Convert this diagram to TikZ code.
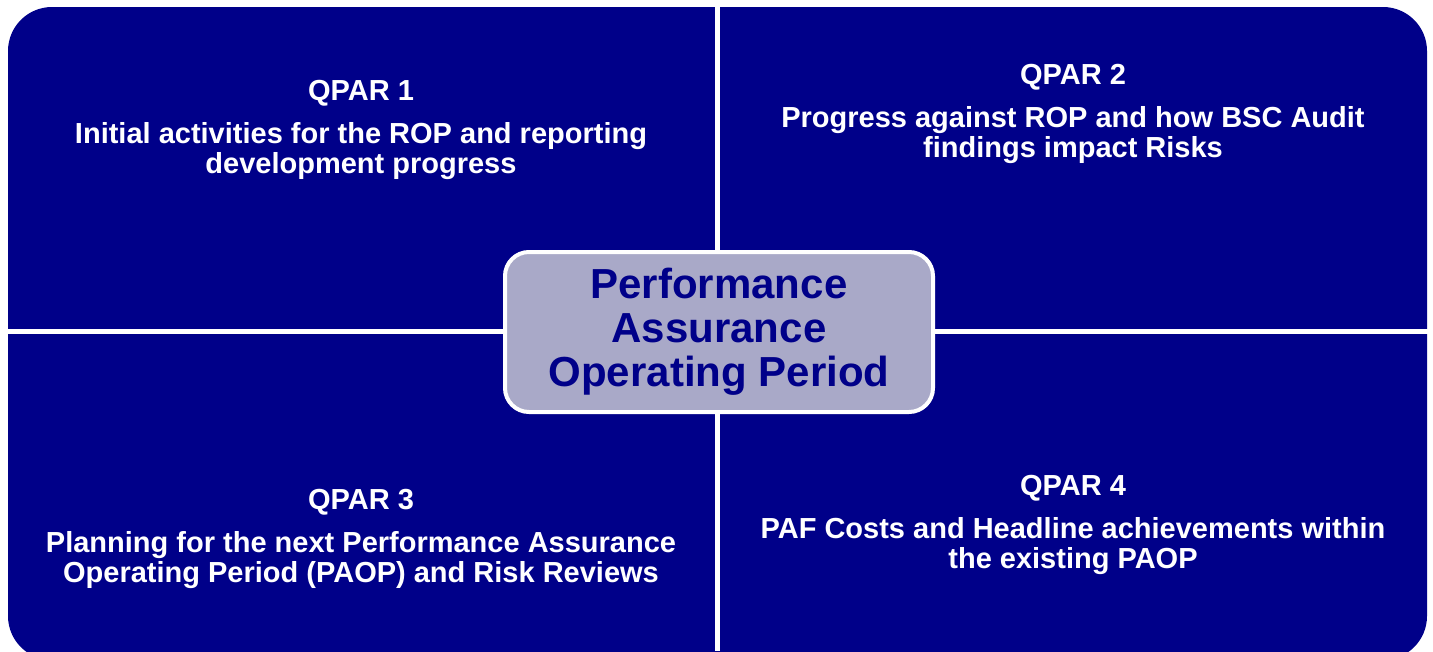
\documentclass[tikz,border=0pt]{standalone}
\usepackage{fontspec}
\setmainfont{Liberation Sans}
\usetikzlibrary{positioning}
\definecolor{navy}{RGB}{0,0,137}
\definecolor{lavender}{RGB}{169,169,200}

\begin{document}
\begin{tikzpicture}[x=1pt,y=-1pt,
  quad/.style={text=white,font=\bfseries\fontsize{29}{30}\selectfont,align=center},
  hub/.style={draw=white,line width=4pt,fill=lavender,rounded corners=24pt,
    text=navy,font=\bfseries\fontsize{42}{44}\selectfont,align=center,
    minimum width=428pt,minimum height=160pt,inner sep=0pt}]
\useasboundingbox (0,0) rectangle (1433,651);
\begin{scope}
\clip (0,0) rectangle (1433,651);
\fill[navy,rounded corners=44pt] (8,7) rectangle (1427,660);
\end{scope}
\draw[white,line width=5pt] (717,0) -- (717,651);
\draw[white,line width=5pt] (0,331) -- (1433,331);
\node[quad] (q1) at (361,130) {QPAR 1\\[13pt]Initial activities for the ROP and reporting\\development progress};
\node[quad] (q2) at (1073,114) {QPAR 2\\[13pt]Progress against ROP and how BSC Audit\\findings impact Risks};
\node[quad] (q3) at (361,539) {QPAR 3\\[13pt]Planning for the next Performance Assurance\\Operating Period (PAOP) and Risk Reviews};
\node[quad] (q4) at (1073,525) {QPAR 4\\[13pt]PAF Costs and Headline achievements within\\the existing PAOP};
\node[hub] (pao) at (719,332) {Performance\\Assurance\\Operating Period};
\end{tikzpicture}
\end{document}
